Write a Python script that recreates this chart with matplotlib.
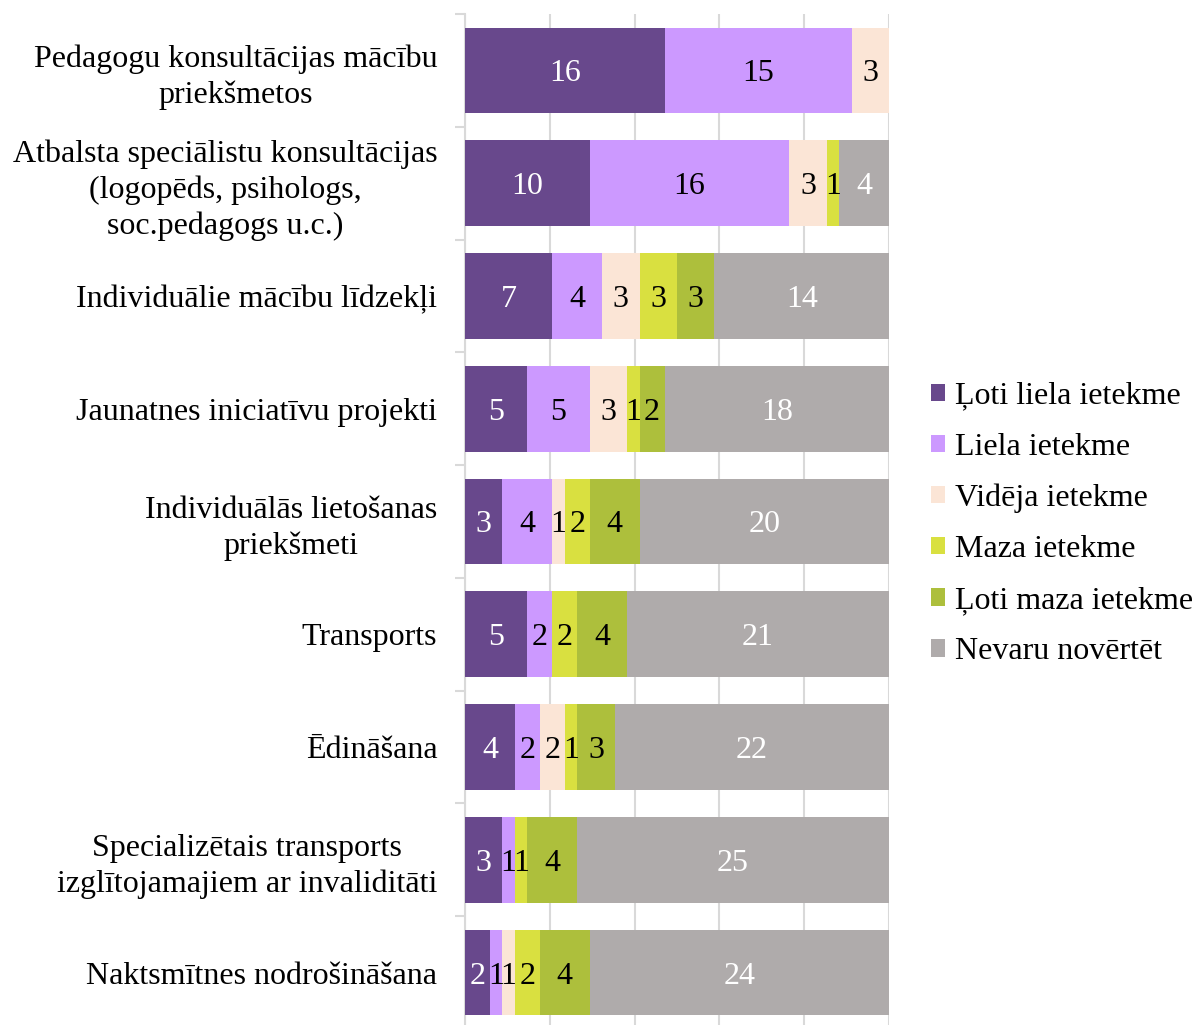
import numpy as np
import matplotlib.pyplot as plt

plt.rcParams['font.family'] = ['Liberation Serif', 'DejaVu Serif']

categories = [
    "Pedagogu konsultācijas mācību\npriekšmetos",
    "Atbalsta speciālistu konsultācijas\n(logopēds, psihologs,\nsoc.pedagogs u.c.)",
    "Individuālie mācību līdzekļi",
    "Jaunatnes iniciatīvu projekti",
    "Individuālās lietošanas\npriekšmeti",
    "Transports",
    "Ēdināšana",
    "Specializētais transports\nizglītojamajiem ar invaliditāti",
    "Naktsmītnes nodrošināšana",
]
series_names = ["Ļoti liela ietekme", "Liela ietekme", "Vidēja ietekme",
                "Maza ietekme", "Ļoti maza ietekme", "Nevaru novērtēt"]
loti_liela = [16, 10, 7, 5, 3, 5, 4, 3, 2]
liela = [15, 16, 4, 5, 4, 2, 2, 1, 1]
videja = [3, 3, 3, 3, 1, 0, 2, 0, 1]
maza = [0, 1, 3, 1, 2, 2, 1, 1, 2]
loti_maza = [0, 0, 3, 2, 4, 4, 3, 4, 4]
nevaru = [0, 4, 14, 18, 20, 21, 22, 25, 24]

colors = ["#68488C", "#CC99FF", "#FBE5D6", "#D9E040", "#ADBF3C", "#AFABAB"]
text_colors = ["white", "black", "black", "black", "black", "white"]

data = np.array([loti_liela, liela, videja, maza, loti_maza, nevaru], dtype=float)
totals = data.sum(axis=0)
pct = data / totals * 100

fig = plt.figure(figsize=(11.97, 10.25), dpi=100)
ax = fig.add_axes([465 / 1197, (1025 - 1029) / 1025, (889 - 465) / 1197, (1029 - 14) / 1025])

y = np.arange(len(categories))
left = np.zeros(len(categories))
for i, name in enumerate(series_names):
    bars = ax.barh(y, pct[i], left=left, height=0.76, color=colors[i], label=name, zorder=3)
    for j, b in enumerate(bars):
        if data[i, j] > 0:
            ax.text(left[j] + pct[i, j] / 2, y[j], "%d" % data[i, j], ha='center',
                    va='center_baseline', fontsize=23, color=text_colors[i], zorder=4)
    left += pct[i]

ax.set_xlim(0, 100)
ax.set_ylim(len(categories) - 0.5, -0.5)
ax.set_xticks([0, 20, 40, 60, 80, 100])
ax.set_xticklabels([])
ax.xaxis.grid(True, color="#D9D9D9", linewidth=1.5, zorder=0)
ax.tick_params(axis='x', length=6, color="#D9D9D9", width=1.5)

ax.set_yticks(y)
ax.set_yticklabels(categories, fontsize=23, multialignment='center', linespacing=1.29)
ax.set_yticks(np.arange(len(categories) + 1) - 0.5, minor=True)
ax.tick_params(axis='y', which='major', length=0, pad=20)
ax.tick_params(axis='y', which='minor', length=7, color="#D9D9D9", width=1.5)

for s in ['top', 'right', 'bottom']:
    ax.spines[s].set_visible(False)
ax.spines['left'].set_color("#D9D9D9")
ax.spines['left'].set_linewidth(1.5)

ax.legend(loc='center left', bbox_to_anchor=(918 / 1197, (1025 - 524) / 1025),
          bbox_transform=fig.transFigure, frameon=False, fontsize=23,
          handlelength=0.45, handleheight=0.45, handletextpad=0.3, labelspacing=0.69,
          borderaxespad=0)

fig.savefig("out.png", dpi=100)
